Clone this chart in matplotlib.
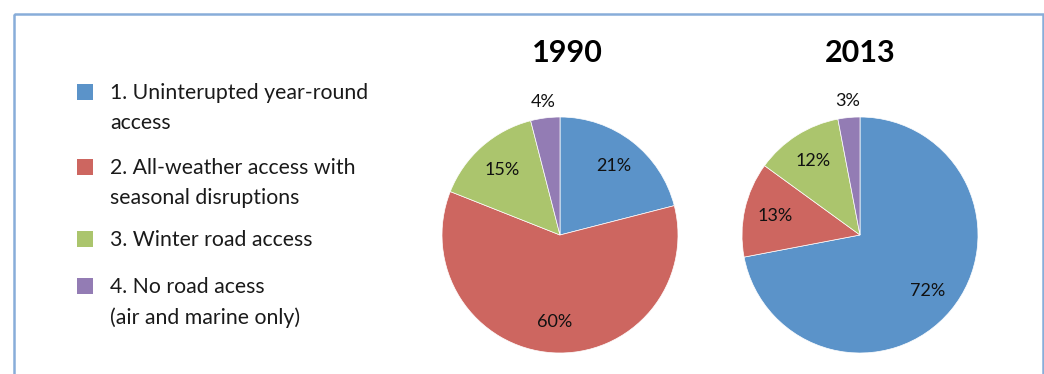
import matplotlib
matplotlib.use("Agg")
import matplotlib.pyplot as plt
from matplotlib.patches import Rectangle

plt.rcParams['font.family'] = ['Lato', 'DejaVu Sans']

categories = ["1. Uninterupted year-round\naccess",
              "2. All-weather access with\nseasonal disruptions",
              "3. Winter road access",
              "4. No road acess\n(air and marine only)"]
years = ["1990", "2013"]
values_1990 = [21, 60, 15, 4]
values_2013 = [72, 13, 12, 3]
colors = ['#5B93C9', '#CD6660', '#ABC56D', '#937CB4']

W, H = 1044, 374
fig = plt.figure(figsize=(W / 100, H / 100), dpi=100)

# background overlay axes in pixel coords
bg = fig.add_axes([0, 0, 1, 1])
bg.set_xlim(0, W)
bg.set_ylim(H, 0)
bg.axis('off')
bg.add_patch(Rectangle((13.5, 13.5), 1029, 400, fill=False,
                       edgecolor='#88ADD9', linewidth=1.8))

# legend
leg_y = [92, 167, 239, 286]
for lab, c, y in zip(categories, colors, leg_y):
    bg.add_patch(Rectangle((77, y - 8), 16, 16, facecolor=c, edgecolor='none'))
    bg.text(110, y - 9, lab, fontsize=15.3, va='top', ha='left',
            linespacing=1.62, color='#1a1a1a')

R = 118
centers = [(560, 235), (860, 235)]
for (cx, cy), yr, vals in zip(centers, years, [values_1990, values_2013]):
    ax = fig.add_axes([(cx - R) / W, (H - cy - R) / H, 2 * R / W, 2 * R / H])
    wedges, texts, autotexts = ax.pie(vals, colors=colors, startangle=90,
                                      counterclock=False, autopct='%d%%',
                                      pctdistance=0.74,
                                      wedgeprops=dict(edgecolor='white', linewidth=0.5),
                                      textprops=dict(fontsize=13, color='#111111'))
    for v, t in zip(vals, autotexts):
        t.set_text(f"{v}%")
        t.set_clip_on(False)
        if v < 5:
            x, y = t.get_position()
            t.set_position((x / 0.74 * 1.14, y / 0.74 * 1.14))
    ax.set_xlim(-1, 1)
    ax.set_ylim(-1, 1)
    ax.set_aspect('equal')
    bg.text(cx + (7 if yr == "1990" else 0), 53, yr, fontsize=22, fontweight='bold',
            ha='center', va='center', color='black')

fig.savefig("out.png", dpi=100)
